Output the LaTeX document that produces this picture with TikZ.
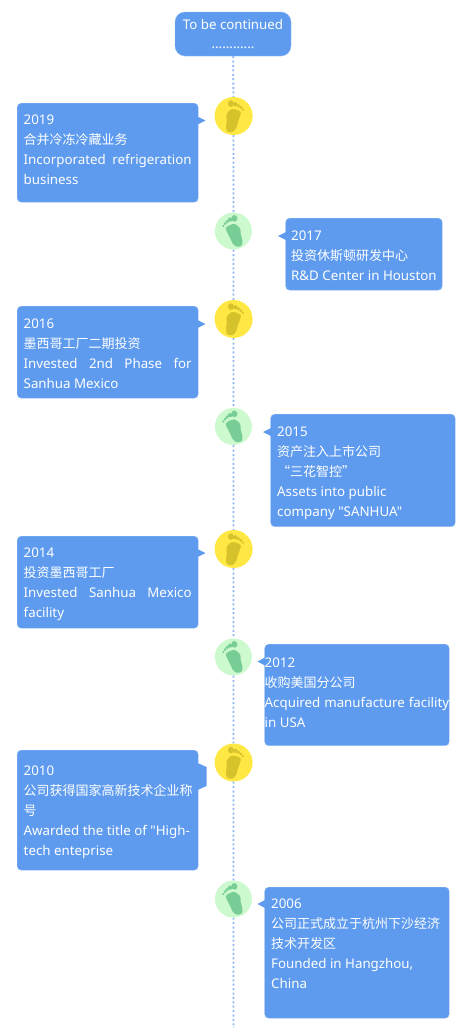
\documentclass[tikz,border=0pt]{standalone}
\usepackage{fontspec}
\newfontfamily\latin{Noto Sans}[Scale=1.025]
\newfontfamily\cjk{Noto Sans CJK SC}
\usetikzlibrary{positioning}
\definecolor{boxblue}{RGB}{94,155,239}
\definecolor{edgeblue}{RGB}{143,184,242}
\definecolor{lineblue}{RGB}{141,182,245}
\definecolor{sunyellow}{RGB}{255,232,67}
\definecolor{soleyellow}{RGB}{214,194,43}
\definecolor{palegreen}{RGB}{205,249,206}
\definecolor{solegreen}{RGB}{120,205,151}
\newcommand{\fullline}[1]{\hbox to \linewidth{\spaceskip=3.4pt plus 1fil #1}}
\newcommand{\boxtext}[4]{\parbox[c][#2pt][t]{#1pt}{\latin\fontsize{13}{20}\selectfont\vspace*{#3pt}#4}}
\tikzset{
    bubble/.style={draw=edgeblue, fill=boxblue, rounded corners=4pt, anchor=north west, inner ysep=0pt, inner xsep=6.5pt, text=white},
    tail/.style={fill=boxblue},
    timeline/.style={draw=lineblue, line width=1.8pt, dash pattern=on 2pt off 2.4pt},
    yellowstep/.style={circle, fill=sunyellow, minimum size=38pt, inner sep=0pt},
    greenstep/.style={circle, fill=palegreen, minimum size=37pt, inner sep=0pt},
    foot/.pic={
        \path[pic actions] plot[smooth cycle] coordinates {(-7,-2) (-2,-6.8) (3,-6.2) (7.2,-3.8) (6,1.5) (4.2,6.5) (2.6,12) (-1,16) (-6,15.5) (-7.6,11) (-6.8,4)};
        \path[pic actions] (-2.7,-12.4) ellipse (3 and 3.3);
        \path[pic actions] (1.7,-11.7) circle (2.1);
        \path[pic actions] (4.8,-10.3) circle (1.8);
        \path[pic actions] (7.2,-8.5) circle (1.5);
        \path[pic actions] (9.2,-6.3) circle (1.2);
    }
}

\begin{document}
\begin{tikzpicture}[x=1pt, y=-1pt]
    \useasboundingbox (0,0) rectangle (459,1028);

    \node[draw=edgeblue, fill=boxblue, rounded corners=10pt, minimum width=116pt, minimum height=44pt, inner sep=0pt, text=white, align=center, font=\latin\fontsize{13}{19}\selectfont] (top) at (233,34) {To be continued\\............};

    \node[yellowstep] (s19) at (233.6,116) {};
    \node[greenstep] (s17) at (233.4,231) {};
    \node[yellowstep] (s16) at (233.6,319) {};
    \node[greenstep] (s15) at (233.4,426.5) {};
    \node[yellowstep] (s14) at (233.6,549) {};
    \node[greenstep] (s12) at (233.4,657) {};
    \node[yellowstep] (s10) at (233.6,762.5) {};
    \node[greenstep] (s06) at (233.4,899) {};
    \coordinate (end) at (233.6,1028);

    \draw[timeline] (top) -- (s19);
    \draw[timeline] (s19) -- (s17);
    \draw[timeline] (s17) -- (s16);
    \draw[timeline] (s16) -- (s15);
    \draw[timeline] (s15) -- (s14);
    \draw[timeline] (s14) -- (s12);
    \draw[timeline] (s12) -- (s10);
    \draw[timeline] (s10) -- (s06);
    \draw[timeline] (s06) -- (end);

    % feet
    \pic[fill=soleyellow] at (s19) {foot};
    \pic[fill=solegreen, xscale=-1, rotate=-8] at (s17) {foot};
    \pic[fill=soleyellow] at (s16) {foot};
    \pic[fill=solegreen, xscale=-1, rotate=-8] at (s15) {foot};
    \pic[fill=soleyellow] at (s14) {foot};
    \pic[fill=solegreen, xscale=-1, rotate=-8] at (s12) {foot};
    \pic[fill=soleyellow] at (s10) {foot};
    \pic[fill=solegreen, xscale=-1, rotate=-8] at (s06) {foot};

    % left side
    \node[bubble] (b19) at (17,103) {\boxtext{168}{99}{12}{2019\par{\cjk 合并冷冻冷藏业务}\par\fullline{Incorporated refrigeration}\par business}};
    \fill[tail] (197.5,116.5) -- (205.5,120.5) -- (197.5,124.5) -- cycle;

    \node[bubble] (b16) at (17,306) {\boxtext{168}{92}{13}{2016\par{\cjk 墨西哥工厂二期投资}\par\fullline{Invested 2nd Phase for}\par Sanhua Mexico}};
    \fill[tail] (197.5,320) -- (205.5,324) -- (197.5,328) -- cycle;

    \node[bubble] (b14) at (17,536) {\boxtext{168}{92}{12}{2014\par{\cjk 投资墨西哥工厂}\par\fullline{Invested Sanhua Mexico}\par facility}};
    \fill[tail] (197.5,549) -- (205.5,553) -- (197.5,557) -- cycle;

    \node[bubble] (b10) at (17,750) {\boxtext{168}{120}{16}{2010\par{\cjk 公司获得国家高新技术企业称}\par{\cjk 号}\par Awarded the title of "High-\par tech enteprise}};
    \fill[tail] (197.5,763) -- (206.5,767) -- (206.5,786) -- (197.5,790) -- cycle;

    % right side
    \node[bubble, inner xsep=5.5pt] (b17) at (285.5,218) {\boxtext{145.5}{72}{13}{2017\par{\cjk 投资休斯顿研发中心}\par R\&D Center in Houston}};
    \fill[tail] (286,232) -- (278,236) -- (286,240) -- cycle;

    \node[bubble] (b15) at (270.5,414) {\boxtext{171.5}{112.5}{13}{2015\par{\cjk 资产注入上市公司}\par{\cjk “三花智控”}\par Assets into public\par company "SANHUA"}};
    \fill[tail] (271,428) -- (263,432) -- (271,436) -- cycle;

    \node[bubble, inner xsep=0pt] (b12) at (264.5,644) {\boxtext{184.5}{101.5}{14}{2012\par{\cjk 收购美国分公司}\par\fullline{Acquired manufacture facility}\par in USA}};
    \fill[tail] (265,657.5) -- (257.5,661.5) -- (265,665.5) -- cycle;

    \node[bubble] (b06) at (264.5,887) {\boxtext{171.5}{131}{12}{2006\par{\cjk 公司正式成立于杭州下沙经济}\par{\cjk 技术开发区}\par Founded in Hangzhou,\par China}};
    \fill[tail] (265,900) -- (257.5,904) -- (265,908) -- cycle;
\end{tikzpicture}
\end{document}
